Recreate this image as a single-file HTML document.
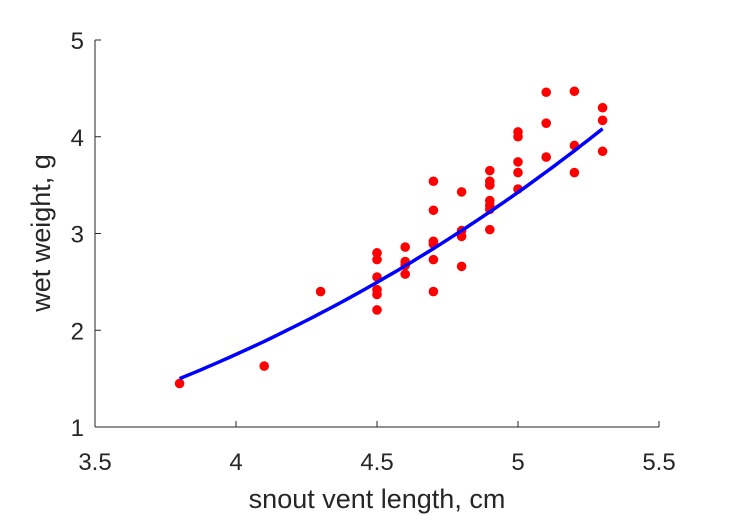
<!DOCTYPE html>
<html><head><meta charset="utf-8"><style>
body{margin:0;background:#fff;}
svg{display:block;font-family:"Liberation Sans",sans-serif;}
</style></head><body>
<svg id="chart" width="729" height="521"></svg>
<script>
const xs = [3.8,4.1,4.3,4.5,4.5,4.5,4.5,4.5,4.5,4.6,4.6,4.6,4.6,4.7,4.7,4.7,4.7,4.7,4.7,4.8,4.8,4.8,4.8,4.9,4.9,4.9,4.9,4.9,4.9,4.9,5.0,5.0,5.0,5.0,5.0,5.1,5.1,5.1,5.2,5.2,5.2,5.3,5.3,5.3];
const ys = [1.45,1.63,2.40,2.80,2.73,2.55,2.42,2.37,2.21,2.86,2.71,2.67,2.58,3.54,3.24,2.92,2.89,2.73,2.40,3.43,3.03,2.97,2.66,3.65,3.54,3.50,3.34,3.29,3.25,3.04,4.05,4.00,3.74,3.63,3.46,4.46,4.14,3.79,4.47,3.91,3.63,4.30,4.17,3.85];
const fitCoef = [0.02697, 3.01];
const fitRange = [3.8, 5.3];
const xTicks = [3.5,4,4.5,5,5.5];
const xTickLabels = ["3.5","4","4.5","5","5.5"];
const yTicks = [1,2,3,4,5];
const yTickLabels = ["1","2","3","4","5"];

const NS="http://www.w3.org/2000/svg";
const svg=document.getElementById('chart');
const X0=95,X1=659,Y0=427,Y1=40;
const sx=v=>X0+(v-3.5)/(5.5-3.5)*(X1-X0);
const sy=v=>Y0-(v-1)/(5-1)*(Y0-Y1);
function mk(t,a){const e=document.createElementNS(NS,t);for(const k in a)e.setAttribute(k,a[k]);svg.appendChild(e);return e;}
let e;
e=mk('line',{x1:X0,y1:Y0,x2:X1,y2:Y0,stroke:'#262626','stroke-width':1});


e=mk('line',{x1:X0,y1:Y0,x2:X0,y2:Y1,stroke:'#262626','stroke-width':1});


xTicks.forEach((t,i)=>{
  e=mk('line',{x1:sx(t),y1:Y0,x2:sx(t),y2:Y0-6,stroke:'#262626'});
  
  
  e=mk('text',{x:sx(t),y:470,'text-anchor':'middle','font-size':24,fill:'#262626'});
  e.textContent=xTickLabels[i];
  
  
});
yTicks.forEach((t,i)=>{
  e=mk('line',{x1:X0,y1:sy(t),x2:X0+6,y2:sy(t),stroke:'#262626'});
  
  
  e=mk('text',{x:84,y:sy(t)+9,'text-anchor':'end','font-size':24,fill:'#262626'});
  e.textContent=yTickLabels[i];
  
  
});
e=mk('text',{x:377,y:508,'text-anchor':'middle','font-size':27,fill:'#262626'});
e.textContent='snout vent length, cm';


e=mk('text',{x:0,y:0,'text-anchor':'middle','font-size':27,fill:'#262626',transform:'translate(50,233) rotate(-90)'});
e.textContent='wet weight, g';


xs.forEach((x,i)=>{
  e=mk('circle',{cx:sx(x),cy:sy(ys[i]),r:4.8,fill:'#ff0000'});
  
  
});
let pts=[];
for(let k=0;k<=60;k++){const x=fitRange[0]+(fitRange[1]-fitRange[0])*k/60;pts.push(sx(x).toFixed(1)+','+sy(fitCoef[0]*Math.pow(x,fitCoef[1])).toFixed(1));}
e=mk('polyline',{points:pts.join(' '),fill:'none',stroke:'#0000ff','stroke-width':3.5});


</script>
</body></html>
